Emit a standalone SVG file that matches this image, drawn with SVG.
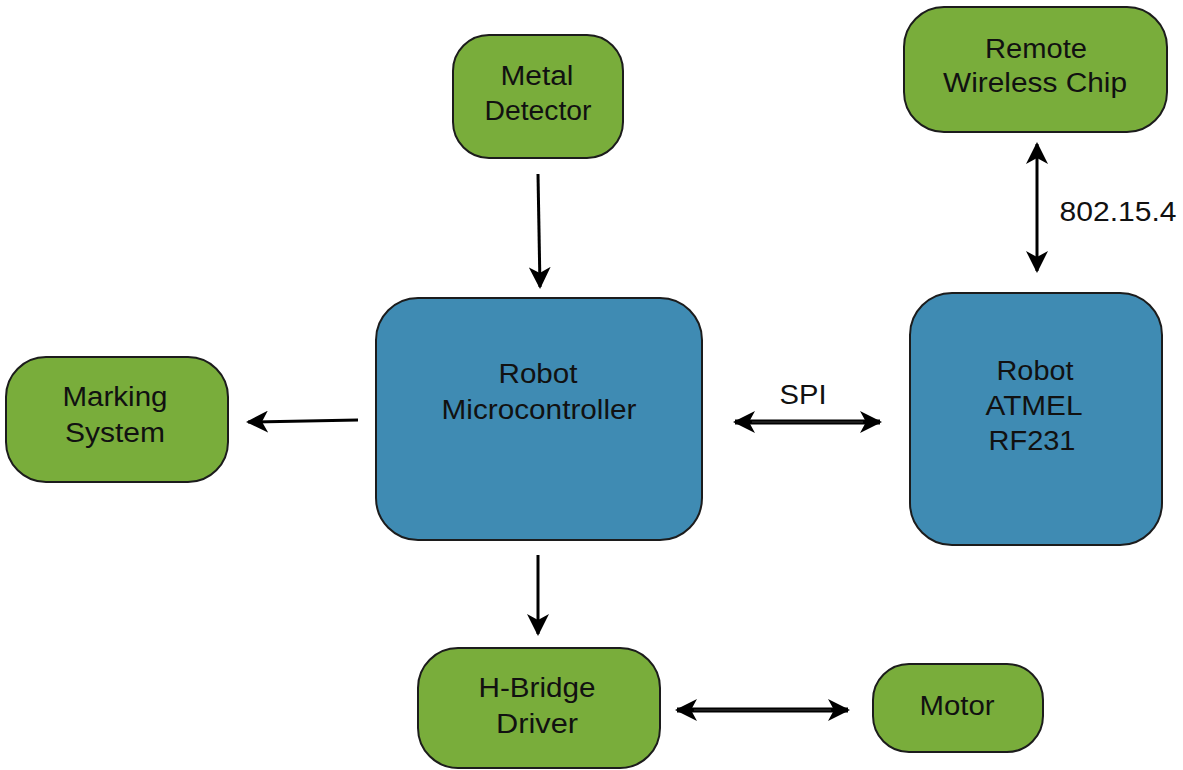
<svg xmlns="http://www.w3.org/2000/svg" width="1183" height="770" viewBox="0 0 1183 770">
  <style>
    .green { fill: #79ad3b; stroke: #1c1c1c; stroke-width: 2; }
    .blue { fill: #3f8bb3; stroke: #1c1c1c; stroke-width: 2; }
    .label { font-family: "Liberation Sans", Arial, sans-serif; font-size: 27px; fill: #111; text-anchor: middle; }
    .edge { stroke: #000; stroke-width: 3; fill: none; }
    .edge2 { stroke: #000; stroke-width: 5; fill: none; }
    .core { stroke: #3a3a3a; stroke-width: 1; fill: none; }
  </style>
  <defs>
    <marker id="head" viewBox="0 0 22 22" refX="20" refY="11" markerWidth="22" markerHeight="22" markerUnits="userSpaceOnUse" orient="auto-start-reverse">
      <path d="M0,0 L22,11 L0,22 L6,11 Z" fill="#000"/>
    </marker>
  </defs>
  <rect width="1183" height="770" fill="#fff"/>

  <g id="metal-detector">
    <rect class="green" x="453" y="35" width="170" height="123" rx="36"/>
    <text class="label" x="537" y="85" textLength="73" lengthAdjust="spacingAndGlyphs">Metal</text>
    <text class="label" x="538" y="120" textLength="107" lengthAdjust="spacingAndGlyphs">Detector</text>
  </g>

  <g id="remote-wireless-chip">
    <rect class="green" x="904" y="7" width="263" height="125" rx="40"/>
    <text class="label" x="1036" y="58" textLength="102" lengthAdjust="spacingAndGlyphs">Remote</text>
    <text class="label" x="1035" y="92" textLength="184" lengthAdjust="spacingAndGlyphs">Wireless Chip</text>
  </g>

  <g id="marking-system">
    <rect class="green" x="6" y="357" width="222" height="125" rx="40"/>
    <text class="label" x="115" y="406" textLength="105" lengthAdjust="spacingAndGlyphs">Marking</text>
    <text class="label" x="115" y="442" textLength="100" lengthAdjust="spacingAndGlyphs">System</text>
  </g>

  <g id="robot-microcontroller">
    <rect class="blue" x="376" y="298" width="326" height="242" rx="42"/>
    <text class="label" x="538" y="383" textLength="79" lengthAdjust="spacingAndGlyphs">Robot</text>
    <text class="label" x="539" y="419" textLength="195" lengthAdjust="spacingAndGlyphs">Microcontroller</text>
  </g>

  <g id="robot-atmel-rf231">
    <rect class="blue" x="910" y="293" width="252" height="252" rx="42"/>
    <text class="label" x="1035" y="380" textLength="77" lengthAdjust="spacingAndGlyphs">Robot</text>
    <text class="label" x="1034" y="415" textLength="97" lengthAdjust="spacingAndGlyphs">ATMEL</text>
    <text class="label" x="1032" y="450" textLength="87" lengthAdjust="spacingAndGlyphs">RF231</text>
  </g>

  <g id="h-bridge-driver">
    <rect class="green" x="418" y="648" width="242" height="120" rx="40"/>
    <text class="label" x="537" y="697" textLength="117" lengthAdjust="spacingAndGlyphs">H-Bridge</text>
    <text class="label" x="537" y="733" textLength="82" lengthAdjust="spacingAndGlyphs">Driver</text>
  </g>

  <g id="motor">
    <rect class="green" x="873" y="664" width="170" height="88" rx="36"/>
    <text class="label" x="957" y="715" textLength="75" lengthAdjust="spacingAndGlyphs">Motor</text>
  </g>

  <g id="connectors">
    <line class="edge" x1="538" y1="174" x2="540" y2="287" marker-end="url(#head)"/>
    <line class="edge" x1="358" y1="420" x2="248" y2="422" marker-end="url(#head)"/>
    <line class="edge" x1="538" y1="555" x2="538" y2="634" marker-end="url(#head)"/>
    <line class="edge2" x1="735" y1="422" x2="880" y2="422" marker-start="url(#head)" marker-end="url(#head)"/>
    <line class="core" x1="752" y1="422" x2="863" y2="422"/>
    <line class="edge2" x1="677" y1="710" x2="848" y2="710" marker-start="url(#head)" marker-end="url(#head)"/>
    <line class="core" x1="694" y1="710" x2="831" y2="710"/>
    <line class="edge" x1="1037" y1="144" x2="1037" y2="271" marker-start="url(#head)" marker-end="url(#head)"/>
    <text class="label" x="803" y="404" textLength="47" lengthAdjust="spacingAndGlyphs">SPI</text>
    <text class="label" x="1118" y="221" textLength="117" lengthAdjust="spacingAndGlyphs">802.15.4</text>
  </g>
</svg>
